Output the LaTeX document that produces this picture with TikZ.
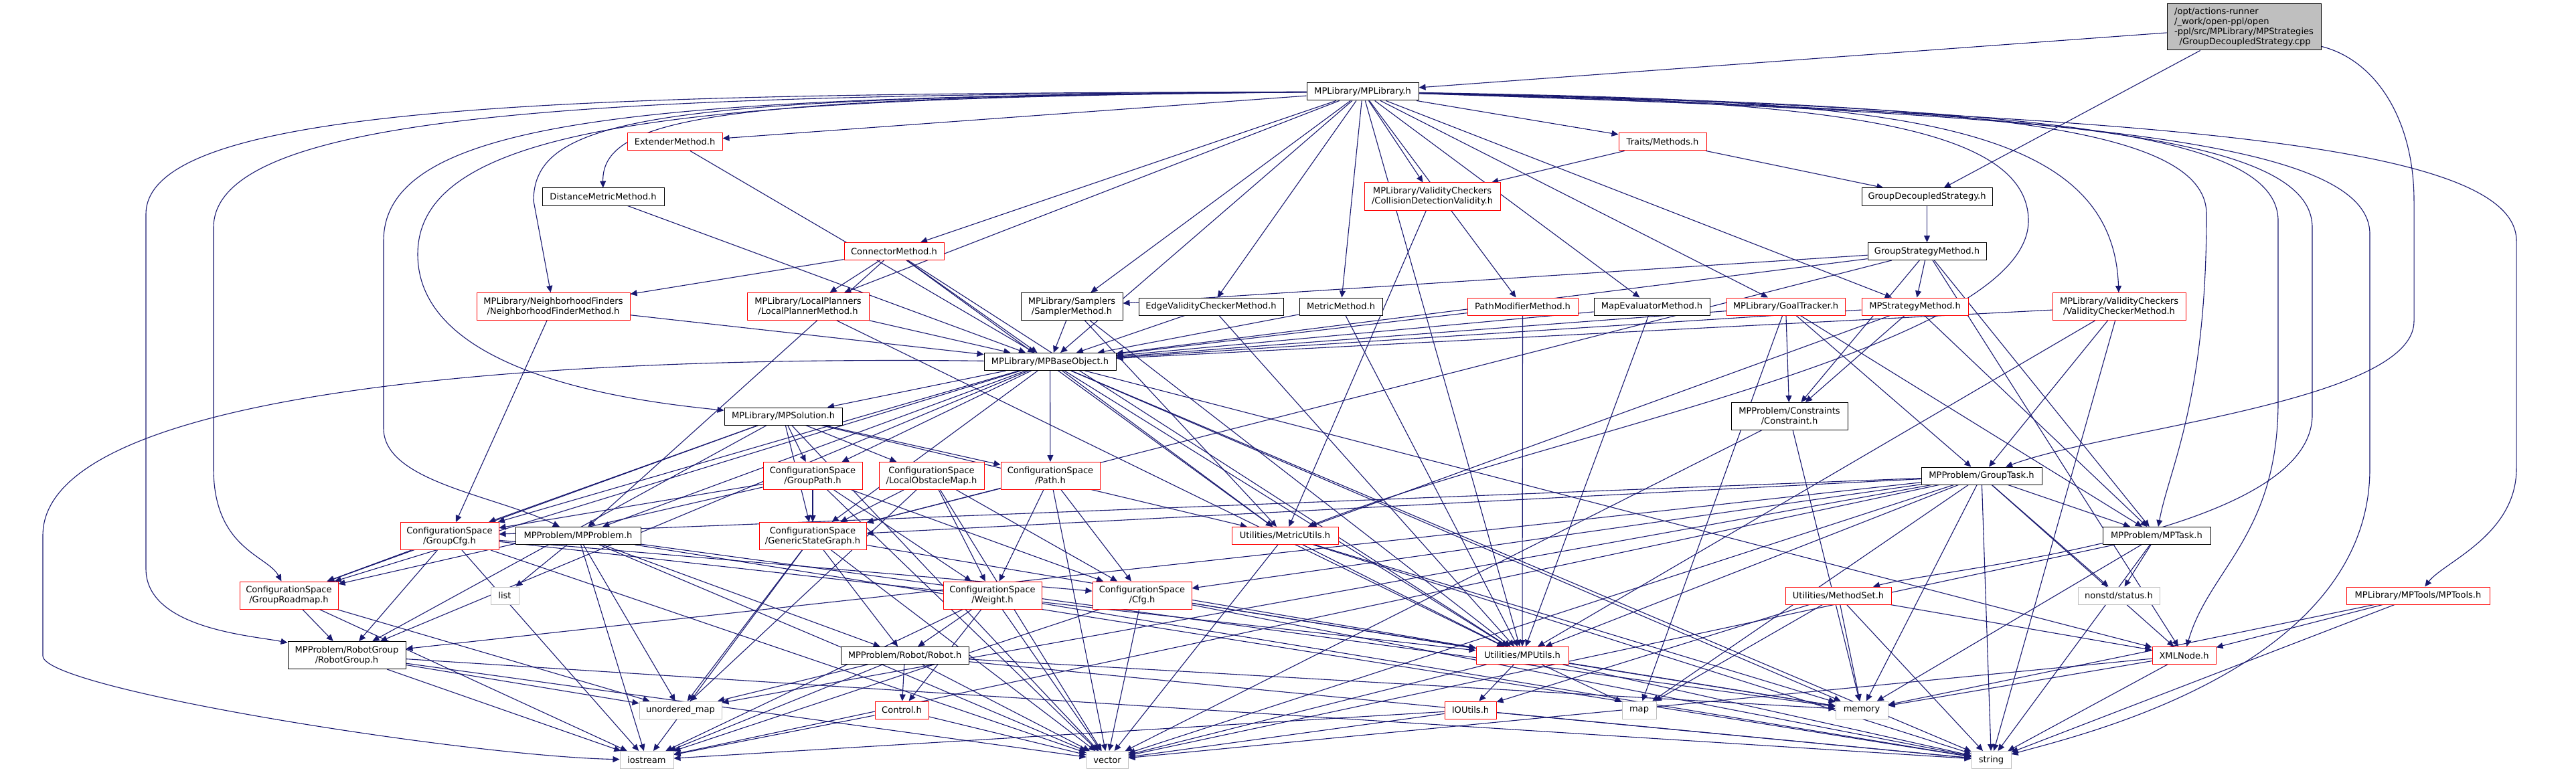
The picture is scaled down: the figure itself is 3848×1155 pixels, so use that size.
\documentclass[tikz,border=0pt]{standalone}
\usepackage{fontspec}
\setmainfont{DejaVu Sans}
\definecolor{doxyBlue}{HTML}{191970}
\definecolor{doxyRed}{HTML}{FF0000}
\definecolor{doxyGrey}{HTML}{BFBFBF}
\usetikzlibrary{arrows.meta, backgrounds}
\tikzset{
    file box/.style={rectangle, draw=black, fill=white, line width=0.5pt, inner sep=0pt, minimum height=13pt, align=center, font=\fontsize{6.53pt}{7.5pt}\selectfont},
    two line/.style={minimum height=20.5pt},
    cut box/.style={file box, draw=doxyRed},
    sys box/.style={file box, draw=doxyGrey},
    src box/.style={file box, fill=doxyGrey, minimum height=34.5pt},
    include arrow/.style={-{Triangle[length=5pt, width=4.5pt]}, doxyBlue, line width=0.55pt},
}

\begin{document}
\begin{tikzpicture}[x=0.5pt, y=-0.5pt]
    \useasboundingbox (0,0) rectangle (3848,1155);
    % files
    \node[src box, minimum width=115pt, align=left] (root) at (3352,40.5) {/opt/actions-runner\\/\_work/open-ppl/open\\-ppl/src/MPLibrary/MPStrategies\\\hspace*{3.8pt}/GroupDecoupledStrategy.cpp};
    \node[file box, minimum width=83.5pt] (mplib) at (2035.5,137) {MPLibrary/MPLibrary.h};
    \node[cut box, minimum width=71pt] (extender) at (1008,212) {ExtenderMethod.h};
    \node[cut box, minimum width=65.5pt] (traits) at (2483.5,212) {Traits/Methods.h};
    \node[file box, minimum width=91pt] (distmetric) at (901,294) {DistanceMetricMethod.h};
    \node[cut box, two line, minimum width=101.5pt] (collision) at (2139.5,293.5) {MPLibrary/ValidityCheckers\\/CollisionDetectionValidity.h};
    \node[file box, minimum width=97.5pt] (gds) at (2878.5,294) {GroupDecoupledStrategy.h};
    \node[cut box, minimum width=74.5pt] (connector) at (1335.5,375.5) {ConnectorMethod.h};
    \node[file box, minimum width=88.5pt] (gsm) at (2878.5,375.5) {GroupStrategyMethod.h};
    \node[cut box, two line, minimum width=114.5pt] (nf) at (826.5,458) {MPLibrary/NeighborhoodFinders\\/NeighborhoodFinderMethod.h};
    \node[cut box, two line, minimum width=91pt] (lp) at (1207,458) {MPLibrary/LocalPlanners\\/LocalPlannerMethod.h};
    \node[file box, two line, minimum width=76pt] (sampler) at (1601,458) {MPLibrary/Samplers\\/SamplerMethod.h};
    \node[file box, minimum width=108pt] (evc) at (1809,458) {EdgeValidityCheckerMethod.h};
    \node[file box, minimum width=62pt] (metric) at (2003,458) {MetricMethod.h};
    \node[cut box, minimum width=82.5pt] (pathmod) at (2274.5,458) {PathModifierMethod.h};
    \node[file box, minimum width=86.5pt] (mapeval) at (2467.5,458) {MapEvaluatorMethod.h};
    \node[cut box, minimum width=88.5pt] (goal) at (2667.5,458) {MPLibrary/GoalTracker.h};
    \node[cut box, minimum width=79.5pt] (mpsm) at (2860.5,458) {MPStrategyMethod.h};
    \node[cut box, two line, minimum width=99.5pt] (vcm) at (3165.5,458) {MPLibrary/ValidityCheckers\\/ValidityCheckerMethod.h};
    \node[file box, minimum width=98.5pt] (mpbase) at (1568.5,540.5) {MPLibrary/MPBaseObject.h};
    \node[file box, minimum width=88pt] (mpsol) at (1170,622) {MPLibrary/MPSolution.h};
    \node[file box, two line, minimum width=87pt] (constraint) at (2673,622) {MPProblem/Constraints\\/Constraint.h};
    \node[cut box, two line, minimum width=74pt] (gpath) at (1214,711) {ConfigurationSpace\\/GroupPath.h};
    \node[cut box, two line, minimum width=78.5pt] (lom) at (1391.5,711) {ConfigurationSpace\\/LocalObstacleMap.h};
    \node[cut box, two line, minimum width=74pt] (path) at (1569,711) {ConfigurationSpace\\/Path.h};
    \node[file box, minimum width=90pt] (gtask) at (2960,711) {MPProblem/GroupTask.h};
    \node[cut box, two line, minimum width=73.5pt] (gcfg) at (671.5,801) {ConfigurationSpace\\/GroupCfg.h};
    \node[file box, minimum width=93.5pt] (mpprob) at (863.5,800.5) {MPProblem/MPProblem.h};
    \node[cut box, two line, minimum width=80pt] (gsg) at (1214,801) {ConfigurationSpace\\/GenericStateGraph.h};
    \node[cut box, minimum width=79.5pt] (metricutils) at (1919.5,800.5) {Utilities/MetricUtils.h};
    \node[file box, minimum width=80.5pt] (mptask) at (3221.5,800.5) {MPProblem/MPTask.h};
    \node[cut box, two line, minimum width=73.5pt] (groadmap) at (431.5,889.5) {ConfigurationSpace\\/GroupRoadmap.h};
    \node[sys box, minimum width=21pt] (list) at (754,890) {list};
    \node[cut box, two line, minimum width=73.5pt] (weight) at (1482.5,889.5) {ConfigurationSpace\\/Weight.h};
    \node[cut box, two line, minimum width=74pt] (cfg) at (1706,889.5) {ConfigurationSpace\\/Cfg.h};
    \node[cut box, minimum width=79pt] (methodset) at (2746,890) {Utilities/MethodSet.h};
    \node[sys box, minimum width=61pt] (status) at (3165,890) {nonstd/status.h};
    \node[cut box, minimum width=107pt] (mptools) at (3612,890) {MPLibrary/MPTools/MPTools.h};
    \node[file box, two line, minimum width=88pt] (robotgroup) at (518,979) {MPProblem/RobotGroup\\/RobotGroup.h};
    \node[file box, minimum width=95.5pt] (robot) at (1351.5,979.5) {MPProblem/Robot/Robot.h};
    \node[cut box, minimum width=69pt] (mputils) at (2274,979.5) {Utilities/MPUtils.h};
    \node[cut box, minimum width=47.5pt] (xml) at (3262.5,979.5) {XMLNode.h};
    \node[sys box, minimum width=61.5pt] (umap) at (1016.5,1061) {unordered\_map};
    \node[cut box, minimum width=40pt] (control) at (1347,1061) {Control.h};
    \node[cut box, minimum width=38.5pt] (ioutils) at (2196.5,1061) {IOUtils.h};
    \node[sys box, minimum width=25.5pt] (map) at (2448.5,1061) {map};
    \node[sys box, minimum width=39pt] (memory) at (2781,1061) {memory};
    \node[sys box, minimum width=40pt] (iostream) at (966,1135.5) {iostream};
    \node[sys box, minimum width=31pt] (vector) at (1654,1135.5) {vector};
    \node[sys box, minimum width=29.5pt] (string) at (2974.5,1135.5) {string};

    \begin{scope}[on background layer]
    % includes
    \draw[include arrow] (root) -- (mplib);
    \draw[include arrow] (root) -- (gds);
    \draw[include arrow] (root) .. controls (3550,90) and (3606,180) .. (3606,300) -- (3606,480) .. controls (3606,600) and (3150,640) .. (gtask);
    \draw[include arrow] (mplib) -- (extender);
    \draw[include arrow] (mplib) -- (traits);
    \draw[include arrow] (mplib) -- (collision);
    \draw[include arrow] (mplib) -- (connector);
    \draw[include arrow] (mplib) -- (lp);
    \draw[include arrow] (mplib) -- (sampler);
    \draw[include arrow] (mplib) -- (evc);
    \draw[include arrow] (mplib) -- (metric);
    \draw[include arrow] (mplib) -- (pathmod);
    \draw[include arrow] (mplib) -- (mapeval);
    \draw[include arrow] (mplib) -- (goal);
    \draw[include arrow] (mplib) -- (mpsm);
    \draw[include arrow] (mplib) -- (mpbase);
    \draw[include arrow] (mplib) -- (mputils);
    \draw[include arrow] (mplib) .. controls (1100,145) and (899,170) .. (distmetric);
    \draw[include arrow] (mplib) .. controls (1000,145) and (797,170) .. (797,300) -- (nf);
    \draw[include arrow] (mplib) .. controls (900,140) and (218,150) .. (218,320) -- (218,850) .. controls (218,940) and (380,950) .. (robotgroup);
    \draw[include arrow] (mplib) .. controls (950,142) and (319,160) .. (319,340) -- (319,700) .. controls (319,820) and (400,830) .. (groadmap);
    \draw[include arrow] (mplib) .. controls (1000,144) and (573,170) .. (573,360) -- (573,640) .. controls (573,720) and (740,740) .. (mpprob);
    \draw[include arrow] (mplib) .. controls (1050,146) and (624,180) .. (624,380) .. controls (624,560) and (950,600) .. (mpsol);
    \draw[include arrow] (mplib) .. controls (2700,150) and (3030,180) .. (3030,330) .. controls (3030,520) and (2300,650) .. (metricutils);
    \draw[include arrow] (mplib) .. controls (2800,150) and (3156,170) .. (vcm);
    \draw[include arrow] (mplib) .. controls (2900,155) and (3296,180) .. (3296,320) .. controls (3296,600) and (3240,700) .. (mptask);
    \draw[include arrow] (mplib) .. controls (3000,160) and (3403,190) .. (3403,330) -- (3403,600) .. controls (3403,800) and (3300,850) .. (xml);
    \draw[include arrow] (mplib) .. controls (3050,165) and (3454,200) .. (3454,340) -- (3454,620) .. controls (3454,800) and (2900,850) .. (methodset);
    \draw[include arrow] (mplib) .. controls (3100,170) and (3540,210) .. (3540,350) -- (3540,700) .. controls (3540,1000) and (3100,1100) .. (string);
    \draw[include arrow] (mplib) .. controls (3200,175) and (3759,210) .. (3759,360) -- (3759,700) .. controls (3759,800) and (3650,840) .. (mptools);
    \draw[include arrow] (traits) -- (collision);
    \draw[include arrow] (traits) -- (gds);
    \draw[include arrow] (gds) -- (gsm);
    \draw[include arrow] (gsm) -- (sampler);
    \draw[include arrow] (gsm) -- (mpsm);
    \draw[include arrow] (gsm) -- (mpbase);
    \draw[include arrow] (gsm) -- (constraint);
    \draw[include arrow] (gsm) -- (mptask);
    \draw[include arrow] (gsm) -- (xml);
    \draw[include arrow] (gsm) -- (gsg);
    \draw[include arrow] (collision) -- (metricutils);
    \draw[include arrow] (extender) -- (mpbase);
    \draw[include arrow] (distmetric) -- (mpbase);
    \draw[include arrow] (connector) -- (nf);
    \draw[include arrow] (connector) -- (lp);
    \draw[include arrow] (connector) -- (mpbase);
    \draw[include arrow] (connector) -- (mpprob);
    \draw[include arrow] (connector) -- (metricutils);
    \draw[include arrow] (connector) -- (mputils);
    \draw[include arrow] (nf) -- (mpbase);
    \draw[include arrow] (nf) -- (gcfg);
    \draw[include arrow] (lp) -- (mpbase);
    \draw[include arrow] (lp) -- (mputils);
    \draw[include arrow] (sampler) -- (mpbase);
    \draw[include arrow] (sampler) -- (metricutils);
    \draw[include arrow] (sampler) -- (mputils);
    \draw[include arrow] (evc) -- (mpbase);
    \draw[include arrow] (evc) -- (mputils);
    \draw[include arrow] (metric) -- (mpbase);
    \draw[include arrow] (metric) -- (mputils);
    \draw[include arrow] (pathmod) -- (mpbase);
    \draw[include arrow] (pathmod) -- (mputils);
    \draw[include arrow] (mapeval) -- (mpbase);
    \draw[include arrow] (mapeval) -- (mputils);
    \draw[include arrow] (goal) -- (mpbase);
    \draw[include arrow] (goal) -- (constraint);
    \draw[include arrow] (goal) -- (gtask);
    \draw[include arrow] (goal) -- (mptask);
    \draw[include arrow] (goal) -- (map);
    \draw[include arrow] (mpsm) -- (mpbase);
    \draw[include arrow] (mpsm) -- (constraint);
    \draw[include arrow] (mpsm) -- (mptask);
    \draw[include arrow] (mpsm) -- (metricutils);
    \draw[include arrow] (vcm) -- (mpbase);
    \draw[include arrow] (vcm) -- (gtask);
    \draw[include arrow] (vcm) -- (mputils);
    \draw[include arrow] (vcm) -- (string);
    \draw[include arrow] (mpbase) -- (mpsol);
    \draw[include arrow] (mpbase) -- (gpath);
    \draw[include arrow] (mpbase) -- (path);
    \draw[include arrow] (mpbase) -- (gcfg);
    \draw[include arrow] (mpbase) -- (groadmap);
    \draw[include arrow] (mpbase) -- (gsg);
    \draw[include arrow] (mpbase) -- (mpprob);
    \draw[include arrow] (mpbase) -- (robotgroup);
    \draw[include arrow] (mpbase) -- (metricutils);
    \draw[include arrow] (mpbase) -- (mputils);
    \draw[include arrow] (mpbase) -- (xml);
    \draw[include arrow] (mpbase) -- (string);
    \draw[include arrow] (mpbase) -- (memory);
    \draw[include arrow] (mpbase) .. controls (700,530) and (64,600) .. (64,800) -- (64,980) .. controls (64,1030) and (700,1130) .. (iostream);
    \draw[include arrow] (mpsol) -- (gpath);
    \draw[include arrow] (mpsol) -- (lom);
    \draw[include arrow] (mpsol) -- (path);
    \draw[include arrow] (mpsol) -- (gcfg);
    \draw[include arrow] (mpsol) -- (groadmap);
    \draw[include arrow] (mpsol) -- (gsg);
    \draw[include arrow] (mpsol) -- (robotgroup);
    \draw[include arrow] (mpsol) -- (metricutils);
    \draw[include arrow] (mpsol) -- (vector);
    \draw[include arrow] (constraint) -- (vector);
    \draw[include arrow] (constraint) -- (memory);
    \draw[include arrow] (gpath) -- (gcfg);
    \draw[include arrow] (gpath) -- (groadmap);
    \draw[include arrow] (gpath) -- (gsg);
    \draw[include arrow] (gpath) -- (weight);
    \draw[include arrow] (gpath) -- (cfg);
    \draw[include arrow] (gpath) -- (vector);
    \draw[include arrow] (lom) -- (gsg);
    \draw[include arrow] (lom) -- (weight);
    \draw[include arrow] (lom) -- (cfg);
    \draw[include arrow] (lom) -- (umap);
    \draw[include arrow] (lom) -- (vector);
    \draw[include arrow] (path) -- (gsg);
    \draw[include arrow] (path) -- (weight);
    \draw[include arrow] (path) -- (cfg);
    \draw[include arrow] (path) -- (vector);
    \draw[include arrow] (gtask) -- (gcfg);
    \draw[include arrow] (gtask) -- (gsg);
    \draw[include arrow] (gtask) -- (cfg);
    \draw[include arrow] (gtask) -- (mptask);
    \draw[include arrow] (gtask) -- (status);
    \draw[include arrow] (gtask) -- (mputils);
    \draw[include arrow] (gtask) -- (xml);
    \draw[include arrow] (gtask) -- (map);
    \draw[include arrow] (gtask) -- (memory);
    \draw[include arrow] (gtask) -- (vector);
    \draw[include arrow] (gtask) -- (string);
    \draw[include arrow] (gtask) -- (iostream);
    \draw[include arrow] (gtask) -- (robotgroup);
    \draw[include arrow] (gtask) -- (umap);
    \draw[include arrow] (gcfg) -- (groadmap);
    \draw[include arrow] (gcfg) -- (robotgroup);
    \draw[include arrow] (gcfg) -- (cfg);
    \draw[include arrow] (gcfg) -- (mputils);
    \draw[include arrow] (gcfg) -- (iostream);
    \draw[include arrow] (gcfg) -- (vector);
    \draw[include arrow] (mpprob) -- (list);
    \draw[include arrow] (mpprob) -- (umap);
    \draw[include arrow] (mpprob) -- (robot);
    \draw[include arrow] (mpprob) -- (iostream);
    \draw[include arrow] (mpprob) -- (vector);
    \draw[include arrow] (mpprob) -- (string);
    \draw[include arrow] (mpprob) -- (memory);
    \draw[include arrow] (gsg) -- (umap);
    \draw[include arrow] (gsg) -- (robot);
    \draw[include arrow] (gsg) -- (mputils);
    \draw[include arrow] (gsg) -- (vector);
    \draw[include arrow] (gsg) -- (iostream);
    \draw[include arrow] (metricutils) -- (mputils);
    \draw[include arrow] (metricutils) -- (vector);
    \draw[include arrow] (metricutils) -- (memory);
    \draw[include arrow] (metricutils) -- (string);
    \draw[include arrow] (mptask) -- (status);
    \draw[include arrow] (mptask) -- (string);
    \draw[include arrow] (mptask) -- (vector);
    \draw[include arrow] (mptask) -- (memory);
    \draw[include arrow] (groadmap) -- (robotgroup);
    \draw[include arrow] (groadmap) -- (umap);
    \draw[include arrow] (groadmap) -- (iostream);
    \draw[include arrow] (weight) -- (robot);
    \draw[include arrow] (weight) -- (control);
    \draw[include arrow] (weight) -- (iostream);
    \draw[include arrow] (weight) -- (vector);
    \draw[include arrow] (weight) -- (string);
    \draw[include arrow] (cfg) -- (iostream);
    \draw[include arrow] (cfg) -- (vector);
    \draw[include arrow] (cfg) -- (mputils);
    \draw[include arrow] (cfg) -- (string);
    \draw[include arrow] (cfg) -- (memory);
    \draw[include arrow] (methodset) -- (ioutils);
    \draw[include arrow] (methodset) -- (map);
    \draw[include arrow] (methodset) -- (memory);
    \draw[include arrow] (methodset) -- (xml);
    \draw[include arrow] (methodset) -- (string);
    \draw[include arrow] (mptools) -- (xml);
    \draw[include arrow] (mptools) -- (string);
    \draw[include arrow] (mptools) -- (memory);
    \draw[include arrow] (robotgroup) -- (umap);
    \draw[include arrow] (robotgroup) -- (iostream);
    \draw[include arrow] (robotgroup) -- (vector);
    \draw[include arrow] (robotgroup) -- (string);
    \draw[include arrow] (robot) -- (umap);
    \draw[include arrow] (robot) -- (control);
    \draw[include arrow] (robot) -- (iostream);
    \draw[include arrow] (robot) -- (vector);
    \draw[include arrow] (robot) -- (string);
    \draw[include arrow] (robot) -- (memory);
    \draw[include arrow] (mputils) -- (ioutils);
    \draw[include arrow] (mputils) -- (map);
    \draw[include arrow] (mputils) -- (memory);
    \draw[include arrow] (mputils) -- (string);
    \draw[include arrow] (mputils) -- (vector);
    \draw[include arrow] (xml) -- (memory);
    \draw[include arrow] (xml) -- (vector);
    \draw[include arrow] (xml) -- (string);
    \draw[include arrow] (control) -- (iostream);
    \draw[include arrow] (control) -- (vector);
    \draw[include arrow] (ioutils) -- (iostream);
    \draw[include arrow] (ioutils) -- (vector);
    \draw[include arrow] (ioutils) -- (string);
    \end{scope}
\end{tikzpicture}
\end{document}
